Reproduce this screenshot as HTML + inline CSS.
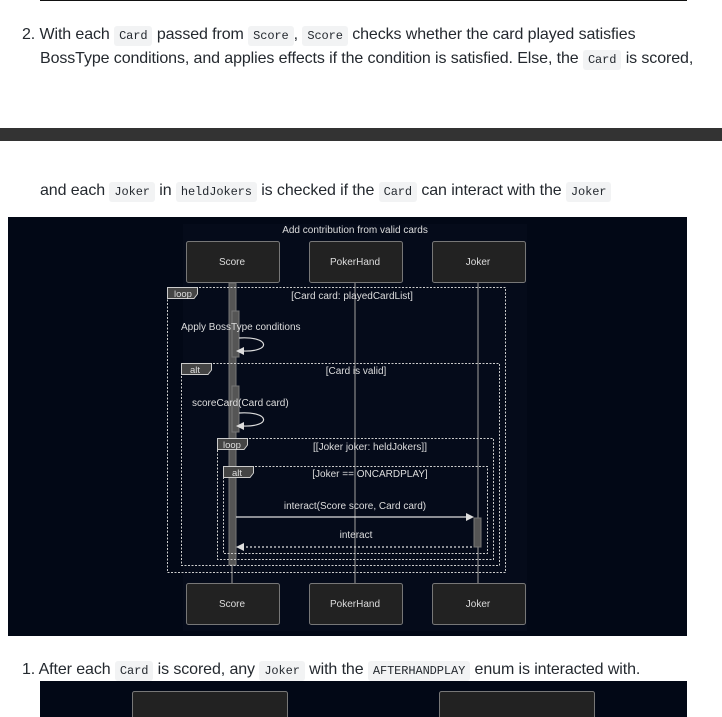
<!DOCTYPE html>
<html><head><style>
body{margin:0;width:722px;height:717px;background:#fff;position:relative;overflow:hidden;font-family:"Liberation Sans",sans-serif;color:#24292f}
.t{position:absolute;font-size:16px;white-space:nowrap;letter-spacing:-0.1px}
code{font-family:"Liberation Mono",monospace;font-size:12px;background:#f2f3f4;padding:3px 5px;border-radius:3px}
</style></head><body>
<div style="position:absolute;left:40px;top:0;width:647px;height:1px;background:#111"></div>
<div class="t" style="left:22px;top:26px">2. With each <code>Card</code> passed from <code>Score</code>, <code>Score</code> checks whether the card played satisfies</div>
<div class="t" style="left:40px;top:50px">BossType conditions, and applies effects if the condition is satisfied. Else, the <code>Card</code> is scored,</div>
<div style="position:absolute;left:0;top:128px;width:722px;height:13px;background:#333"></div>
<div class="t" style="left:40px;top:182px">and each <code>Joker</code> in <code>heldJokers</code> is checked if the <code>Card</code> can interact with the <code>Joker</code></div>
<svg style="position:absolute;left:0;top:0" width="722" height="717" font-family="Liberation Sans,sans-serif" font-size="10" fill="#ddd">
<rect x="8" y="217" width="679" height="419" fill="#020816"/>
<rect x="183" y="224" width="344" height="407" fill="#050b1a"/>
<text x="355" y="233" text-anchor="middle">Add contribution from valid cards</text>
<g stroke="#888" stroke-width="1.2">
<line x1="232" y1="282" x2="232" y2="583"/><line x1="355" y1="282" x2="355" y2="583"/><line x1="478" y1="282" x2="478" y2="583"/>
</g>
<g fill="#222" stroke="#777">
<rect x="186.5" y="241.5" width="93" height="41" rx="2"/><rect x="309.5" y="241.5" width="93" height="41" rx="2"/><rect x="432.5" y="241.5" width="93" height="41" rx="2"/>
<rect x="186.5" y="583.5" width="93" height="41" rx="2"/><rect x="309.5" y="583.5" width="93" height="41" rx="2"/><rect x="432.5" y="583.5" width="93" height="41" rx="2"/>
</g>
<g text-anchor="middle"><text x="232" y="265">Score</text><text x="355" y="265">PokerHand</text><text x="478" y="265">Joker</text>
<text x="232" y="607">Score</text><text x="355" y="607">PokerHand</text><text x="478" y="607">Joker</text></g>
<rect x="229" y="283" width="7" height="282" fill="#555" stroke="#777"/>
<rect x="232" y="311" width="7" height="46" fill="#555" stroke="#777"/>
<rect x="232" y="386" width="7" height="46" fill="#555" stroke="#777"/>
<rect x="474" y="518" width="7" height="29" fill="#555" stroke="#777"/>
<g fill="none" stroke="#ccc" stroke-dasharray="2,1.5">
<rect x="167.5" y="287.5" width="338" height="285"/>
<rect x="181.5" y="363.5" width="318" height="202"/>
<rect x="217.5" y="438.5" width="276" height="121"/>
<rect x="223.5" y="466.5" width="264" height="87"/>
</g>
<g fill="#444" stroke="#ccc">
<path d="M167.5 287.5H197.5V294L194 298.5H167.5Z"/>
<path d="M181.5 363.5H211.5V370L208 374.5H181.5Z"/>
<path d="M217.5 438.5H247.5V445L244 449.5H217.5Z"/>
<path d="M223.5 466.5H253.5V473L250 477.5H223.5Z"/>
</g>
<g font-size="9.5"><text x="174" y="297">loop</text><text x="190" y="373">alt</text><text x="223" y="448">loop</text><text x="232" y="476">alt</text></g>
<g text-anchor="middle">
<text x="352" y="299">[Card card: playedCardList]</text>
<text x="356" y="374">[Card is valid]</text>
<text x="370" y="450">[[Joker joker: heldJokers]]</text>
<text x="370" y="477">[Joker == ONCARDPLAY]</text>
<text x="355" y="509">interact(Score score, Card card)</text>
<text x="356" y="538">interact</text>
</g>
<text x="181" y="330">Apply BossType conditions</text>
<text x="192" y="406">scoreCard(Card card)</text>
<g fill="none" stroke="#ddd" stroke-width="1.2">
<path d="M239 338C270 336 272 352 243 351"/>
<path d="M239 413C270 411 272 427 243 426"/>
<line x1="236" y1="517" x2="468" y2="517"/>
<line x1="242" y1="547" x2="474" y2="547" stroke-dasharray="2,2"/>
</g>
<g fill="#ddd"><path d="M236 351l8-4v8z"/><path d="M236 426l8-4v8z"/><path d="M474 517l-8-4v8z"/><path d="M236 547l8-4v8z"/></g>
<rect x="40" y="681" width="647" height="36" fill="#020816"/>
<rect x="132.5" y="691.5" width="155" height="30" rx="2" fill="#222" stroke="#777"/>
<rect x="439.5" y="691.5" width="155" height="30" rx="2" fill="#222" stroke="#777"/>
</svg>
<div class="t" style="left:22px;top:661px">1. After each <code>Card</code> is scored, any <code>Joker</code> with the <code>AFTERHANDPLAY</code> enum is interacted with.</div>
</body></html>
